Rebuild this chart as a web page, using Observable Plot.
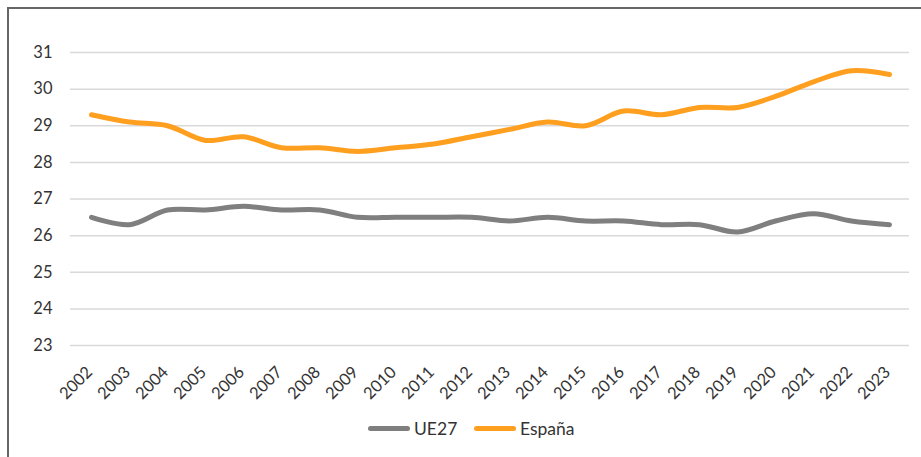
<!DOCTYPE html>
<html>
<head>
<meta charset="utf-8">
<script src="https://cdn.jsdelivr.net/npm/d3@7"></script>
<script src="https://cdn.jsdelivr.net/npm/@observablehq/plot@0.6"></script>
<style>
  html, body { margin: 0; padding: 0; background: #fff; }
  body { width: 921px; height: 457px; position: relative; overflow: hidden; font-family: Lato, "Open Sans", sans-serif; }
  #frame { position: absolute; left: 7px; top: 7px; width: 930px; height: 470px; border-left: 2px solid #666; border-top: 2px solid #666; }
  #chart { position: absolute; left: 0; top: 0; }
  #legend { position: absolute; top: 417px; left: 0; width: 921px; height: 22px; }
  .item { position: absolute; top: 0; display: flex; align-items: center; height: 22px; font-size: 17.5px; color: #333; }
  .sw { display: inline-block; width: 42px; height: 5px; border-radius: 3px; margin-right: 4px; }
</style>
</head>
<body>
<div id="frame"></div>
<div id="chart"></div>
<div id="legend">
  <div class="item" style="left:368px"><span class="sw" style="background:#7f7f7f"></span>UE27</div>
  <div class="item" style="left:474px"><span class="sw" style="background:#ff9f1f"></span>España</div>
</div>
<script>
const years = ["2002","2003","2004","2005","2006","2007","2008","2009","2010","2011","2012","2013","2014","2015","2016","2017","2018","2019","2020","2021","2022","2023"];
const ue27 = [26.5,26.3,26.7,26.7,26.8,26.7,26.7,26.5,26.5,26.5,26.5,26.4,26.5,26.4,26.4,26.3,26.3,26.1,26.4,26.6,26.4,26.3];
const espana = [29.3,29.1,29.0,28.6,28.7,28.4,28.4,28.3,28.4,28.5,28.7,28.9,29.1,29.0,29.4,29.3,29.5,29.5,29.8,30.2,30.5,30.4];
const yTicks = [23,24,25,26,27,28,29,30,31];
const seriesNames = ["UE27","España"];
const seriesColors = ["#7f7f7f","#ff9f1f"];

const data = [];
years.forEach((y,i) => {
  data.push({year: y, value: ue27[i], serie: seriesNames[0]});
  data.push({year: y, value: espana[i], serie: seriesNames[1]});
});

const chart = Plot.plot({
  width: 921,
  height: 400,
  marginLeft: 70,
  marginRight: 12,
  marginTop: 52,
  marginBottom: 55,
  style: {fontFamily: "Lato, 'Open Sans', sans-serif", fontSize: "16px", color: "#333", background: "transparent", overflow: "visible"},
  x: {type: "point", domain: years, padding: 0.5, label: null},
  y: {domain: [23, 31], label: null},
  color: {domain: seriesNames, range: seriesColors},
  marks: [
    Plot.gridY(yTicks, {stroke: "#d9d9d9", strokeOpacity: 1, strokeWidth: 1.5}),
    Plot.axisY(yTicks, {tickSize: 0, tickPadding: 18, fontSize: 16.5, fill: "#333"}),
    Plot.axisX({tickSize: 0, tickRotate: -45, tickPadding: 24, dx: -2, fontSize: 16.5, fill: "#333"}),
    Plot.line(data, {x: "year", y: "value", z: "serie", stroke: "serie", strokeWidth: 5, curve: "catmull-rom", strokeLinecap: "round"})
  ]
});
document.getElementById("chart").appendChild(chart);
</script>
</body>
</html>
